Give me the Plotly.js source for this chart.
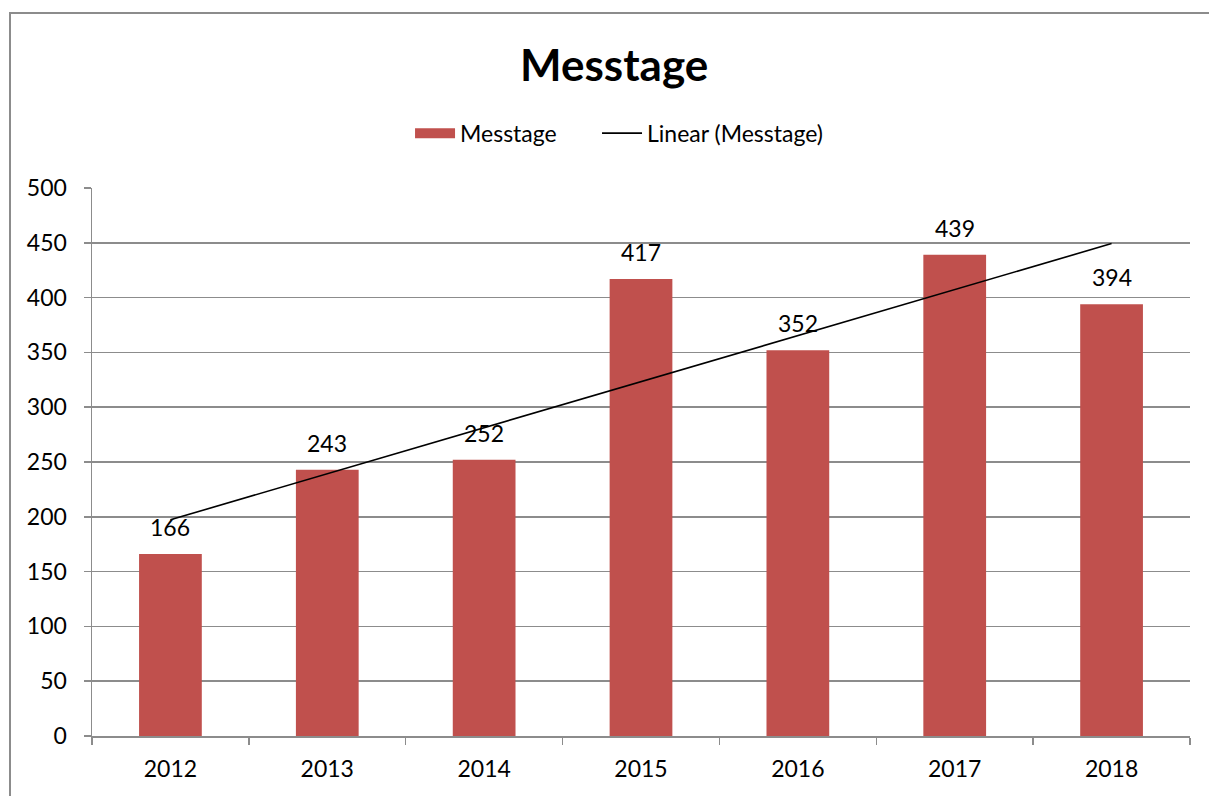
<!DOCTYPE html>
<html>
<head>
<meta charset="utf-8">
<script src="https://cdn.plot.ly/plotly-3.0.1.min.js"></script>
<style>
  html, body { margin: 0; padding: 0; background: #fff; }
  #wrap { position: relative; width: 1209px; height: 796px; overflow: hidden; }
  #chart { position: absolute; left: 0; top: 0; width: 1209px; height: 796px; }
  #frame { position: absolute; left: 9px; top: 12px; width: 1300px; height: 900px;
           border-left: 2px solid #8c8c8c; border-top: 2px solid #8c8c8c; pointer-events: none; }
</style>
</head>
<body>
<div id="wrap">
  <div id="chart"></div>
  <div id="frame"></div>
</div>
<script>
const years = ["2012", "2013", "2014", "2015", "2016", "2017", "2018"];
const messtage = [166, 243, 252, 417, 352, 439, 394];
const yTicks = [0, 50, 100, 150, 200, 250, 300, 350, 400, 450, 500];
const seriesName = "Messtage";
const trendName = "Linear (Messtage)";

// Linear trendline (least squares) as in the source chart
const n = messtage.length;
const xs = messtage.map((_, i) => i + 1);
const mx = xs.reduce((a, b) => a + b, 0) / n;
const my = messtage.reduce((a, b) => a + b, 0) / n;
let sxy = 0, sxx = 0;
for (let i = 0; i < n; i++) { sxy += (xs[i] - mx) * (messtage[i] - my); sxx += (xs[i] - mx) ** 2; }
const slope = sxy / sxx, intercept = my - slope * mx;
const trend = xs.map(x => intercept + slope * x);

const FONT = "Lato, 'Open Sans', sans-serif";
const FS = 23;
const grid = "#8c8c8c";
const barColor = "#C0504D";
const PAD = "\u00a0".repeat(6);

const data = [
  {
    type: "bar", name: seriesName, x: years, y: messtage,
    marker: { color: barColor }, showlegend: false, hoverinfo: "x+y"
  },
  {
    // legend swatch for the bar series (wide red rectangle like the source)
    type: "scatter", mode: "lines", name: seriesName + PAD,
    x: [null], y: [null], line: { color: barColor, width: 14 }, hoverinfo: "skip"
  },
  {
    type: "scatter", mode: "lines", name: trendName,
    x: years, y: trend, line: { color: "#000", width: 1.6 }, hoverinfo: "skip"
  }
];

const annotations = years.map((yr, i) => ({
  x: i, y: messtage[i], xref: "x", yref: "y",
  text: String(messtage[i]), showarrow: false,
  yanchor: "bottom", yshift: 11,
  font: { family: FONT, size: FS, color: "#000" }
}));

const layout = {
  width: 1209, height: 796,
  margin: { l: 92, r: 19, t: 188, b: 60 },
  paper_bgcolor: "#fff", plot_bgcolor: "#fff",
  font: { family: FONT, size: FS, color: "#000" },
  title: {
    text: "<b>Messtage</b>", x: 0.508, xanchor: "center", y: 0.918, yanchor: "middle",
    font: { family: FONT, size: 44, color: "#000" }
  },
  showlegend: true,
  legend: {
    orientation: "h", x: 0.48, xanchor: "center", y: 1.1, yanchor: "middle",
    font: { family: FONT, size: FS, color: "#000" }, traceorder: "normal",
    itemwidth: 40
  },
  bargap: 0.6,
  xaxis: {
    type: "category", tickson: "boundaries", ticks: "outside", ticklen: 7,
    tickcolor: grid, tickwidth: 1.5, showline: true, linecolor: grid, linewidth: 1.5,
    showgrid: false, ticklabelstandoff: 12,
    tickfont: { family: FONT, size: FS, color: "#000" }, fixedrange: true
  },
  yaxis: {
    range: [0, 500], tickvals: yTicks, ticktext: yTicks.map(String),
    ticks: "outside", ticklen: 7, tickcolor: grid, tickwidth: 1.5,
    showline: true, linecolor: grid, linewidth: 1.5,
    showgrid: true, gridcolor: grid, gridwidth: 1.5, zeroline: false,
    ticklabelstandoff: 12,
    tickfont: { family: FONT, size: FS, color: "#000" }, fixedrange: true
  },
  annotations: annotations
};

Plotly.newPlot("chart", data, layout, { displayModeBar: false, staticPlot: true });
</script>
</body>
</html>
